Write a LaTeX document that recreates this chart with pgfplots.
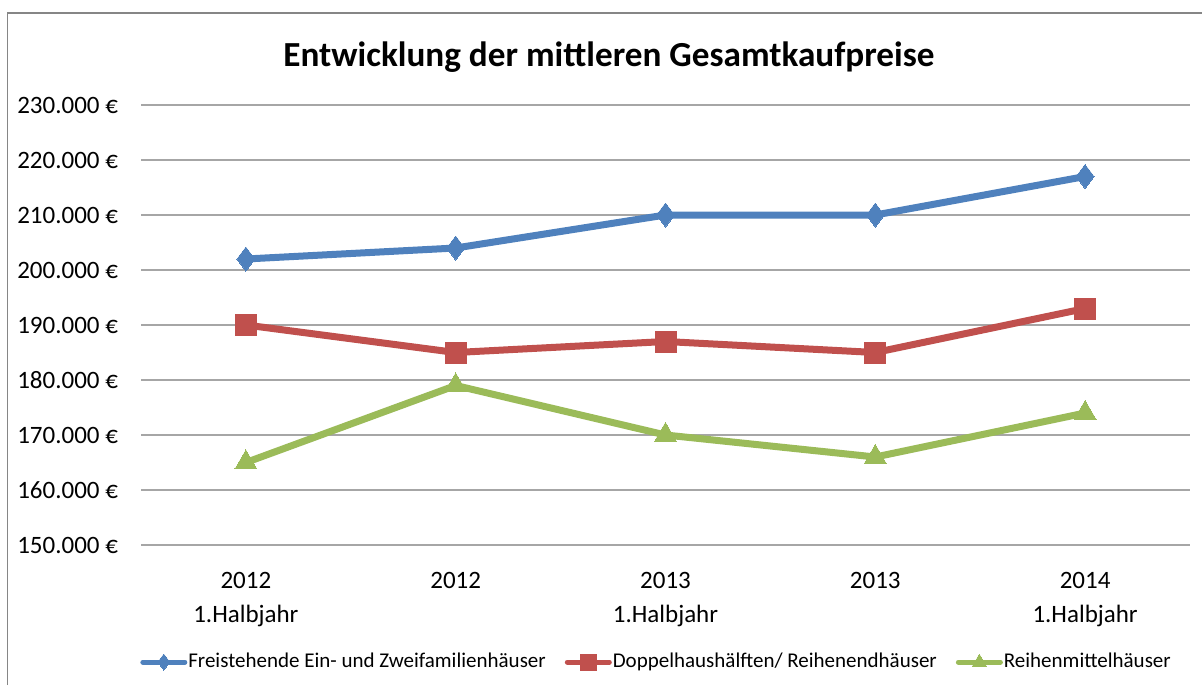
\documentclass[border=0pt]{standalone}
\usepackage{fontspec}
\setmainfont{Carlito}
\usepackage{pgfplots}
\pgfplotsset{compat=1.18}
\definecolor{cblue}{HTML}{4F81BD}
\definecolor{cred}{HTML}{C0504D}
\definecolor{cgreen}{HTML}{9BBB59}
\definecolor{cgrid}{HTML}{A6A6A6}
\definecolor{cframe}{HTML}{868686}
\begin{document}
\begin{tikzpicture}
\useasboundingbox (0,0) rectangle (601pt,342.5pt);
\draw[cframe, line width=0.9pt] (3.7pt,0pt) -- (3.7pt,336pt) -- (601pt,336pt);
\node[font=\fontsize{17.6}{21}\selectfont\bfseries] at (304.5pt,314pt) {Entwicklung der mittleren Gesamtkaufpreise};
\begin{axis}[
  at={(70.5pt,70pt)}, anchor=south west,
  scale only axis, width=524.5pt, height=220pt,
  xmin=-0.5, xmax=4.5, ymin=150000, ymax=230000,
  scaled y ticks=false,
  xtick={0,1,2,3,4},
  xticklabels={{2012\\1.Halbjahr},{2012},{2013\\1.Halbjahr},{2013},{2014\\1.Halbjahr}},
  xticklabel style={align=center, font=\fontsize{12.5}{17}\selectfont, yshift=-10pt},
  ytick={150000,160000,170000,180000,190000,200000,210000,220000,230000},
  yticklabels={150.000 €,160.000 €,170.000 €,180.000 €,190.000 €,200.000 €,210.000 €,220.000 €,230.000 €},
  yticklabel style={font=\fontsize{12.5}{14}\selectfont, xshift=-8pt},
  ymajorgrids, major grid style={cgrid, line width=0.6pt},
  axis line style={draw=none}, major tick style={draw=none},
  clip=false,
  legend columns=3,
  legend style={draw=none, fill=none, at={(0.491,-0.266)}, anchor=center,
    font=\fontsize{10.5}{12}\selectfont,
    nodes={inner xsep=0.5pt},
    /tikz/every odd column/.append style={column sep=0pt},
    /tikz/every even column/.append style={column sep=9pt},
    inner sep=0pt},
  legend image code/.code={
    \draw[#1, line width=2.5pt, mark size=4pt, mark repeat=2, mark phase=2, line cap=round] plot coordinates {(0pt,0pt) (10.5pt,0pt) (21pt,0pt)};
  },
]
\addplot[cblue, line width=3.5pt, line join=round, mark=diamond*, mark size=6pt, mark options={solid, fill=cblue, draw=cblue, line width=0pt}]
  coordinates {(0,202000) (1,204000) (2,210000) (3,210000) (4,217000)};
\addlegendentry{Freistehende Ein- und Zweifamilienhäuser}
\addplot[cred, line width=3.5pt, line join=round, mark=square*, mark size=5.25pt, mark options={solid, fill=cred, draw=cred, line width=0pt}]
  coordinates {(0,190000) (1,185000) (2,187000) (3,185000) (4,193000)};
\addlegendentry{Doppelhaushälften/ Reihenendhäuser}
\addplot[cgreen, line width=3.5pt, line join=round, mark=triangle*, mark size=6.3pt, mark options={solid, fill=cgreen, draw=cgreen, line width=0pt}]
  coordinates {(0,165000) (1,179000) (2,170000) (3,166000) (4,174000)};
\addlegendentry{Reihenmittelhäuser}
\end{axis}
\end{tikzpicture}
\end{document}
